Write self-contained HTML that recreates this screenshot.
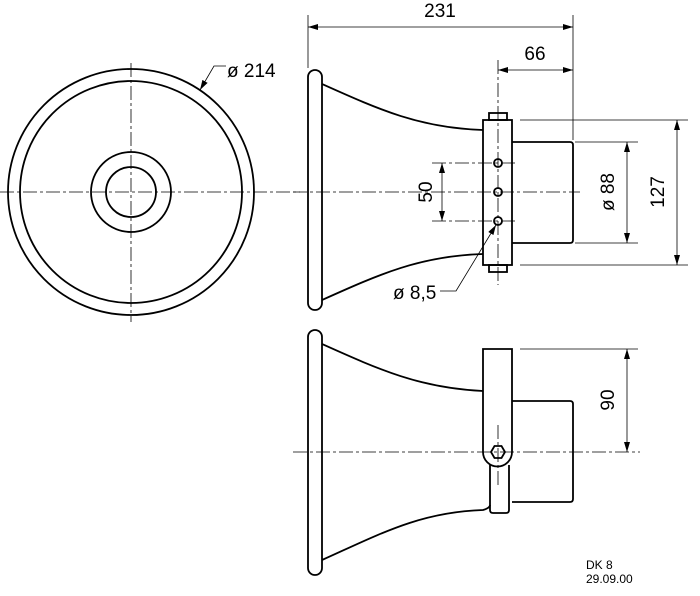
<!DOCTYPE html>
<html><head><meta charset="utf-8"><style>body{margin:0;background:#fff}svg{display:block}text{font-family:"Liberation Sans",sans-serif;fill:#000}</style></head>
<body>
<svg width="700" height="596" viewBox="0 0 700 596" xmlns="http://www.w3.org/2000/svg">
<defs><marker id="a" viewBox="0 0 10 6" refX="10" refY="3" markerWidth="10" markerHeight="6" orient="auto-start-reverse" markerUnits="userSpaceOnUse"><path d="M0,0 L10,3 L0,6 z" fill="#000"/></marker></defs>
<g fill="none" stroke="#000">
<g stroke-width="0.8" stroke-dasharray="14,3,3,3">
<line x1="0" y1="192" x2="300" y2="192"/>
<line x1="131" y1="63" x2="131" y2="322"/>
<line x1="293" y1="192" x2="580" y2="192"/>
<line x1="498" y1="60" x2="498" y2="285"/>
<line x1="293" y1="452" x2="640" y2="452"/>
<line x1="498" y1="425" x2="498" y2="485"/>
<line x1="432" y1="163" x2="518" y2="163"/>
<line x1="432" y1="221" x2="518" y2="221"/>
</g>
<g stroke-width="1.8">
<circle cx="131" cy="192" r="123"/>
<circle cx="131" cy="192" r="111"/>
<circle cx="131" cy="192" r="40"/>
<circle cx="131" cy="192" r="25"/>
</g>
<g stroke-width="1.8">
<rect x="308" y="70" width="14" height="240" rx="7"/>
<path d="M322,84 C380,110 420,128 483,130"/>
<path d="M322,300 C380,274 420,256 483,254"/>
<rect x="483" y="120" width="29" height="145"/>
<rect x="489" y="113" width="18" height="7"/>
<rect x="489" y="265" width="18" height="7"/>
<path d="M512,142 H570 Q573,142 573,145 V240 Q573,243 570,243 H512"/>
<circle cx="498" cy="163" r="4"/>
<circle cx="498" cy="192" r="4"/>
<circle cx="498" cy="221" r="4"/>
</g>
<g stroke-width="1.8">
<rect x="308" y="330" width="14" height="245" rx="7"/>
<path d="M322,344 C380,370 420,388 483,391"/>
<path d="M322,560 C380,534 420,512 483,510 Q490,508 490,505"/>
<path d="M483,349 H512 V452 A14.5,14.5 0 0 1 483,452 Z"/>
<path d="M490,465 V510 Q490,513 493,513 H506 Q509,513 509,510 V465"/>
<path d="M512,401 H570 Q573,401 573,404 V499 Q573,502 570,502 H512"/>
<polygon points="491,452 494.5,446 501.5,446 505,452 501.5,458 494.5,458"/>
</g>
<g stroke-width="0.8">
<line x1="308" y1="15" x2="308" y2="68"/>
<line x1="573" y1="15" x2="573" y2="140"/>
<line x1="308" y1="27" x2="573" y2="27" marker-start="url(#a)" marker-end="url(#a)"/>
<line x1="498" y1="70" x2="573" y2="70" marker-start="url(#a)" marker-end="url(#a)"/>
<line x1="442" y1="163" x2="442" y2="221" marker-start="url(#a)" marker-end="url(#a)"/>
<line x1="575" y1="142" x2="638" y2="142"/>
<line x1="575" y1="243" x2="638" y2="243"/>
<line x1="627" y1="142" x2="627" y2="243" marker-start="url(#a)" marker-end="url(#a)"/>
<line x1="520" y1="120" x2="688" y2="120"/>
<line x1="520" y1="265" x2="688" y2="265"/>
<line x1="677" y1="120" x2="677" y2="265" marker-start="url(#a)" marker-end="url(#a)"/>
<line x1="520" y1="349" x2="638" y2="349"/>
<line x1="627" y1="349" x2="627" y2="452" marker-start="url(#a)" marker-end="url(#a)"/>
<polyline points="440,291 456,291 496,225" marker-end="url(#a)"/>
<polyline points="226,66 214,66 200,90" marker-end="url(#a)"/>
</g>
</g>
<g font-size="19">
<text x="440" y="17" text-anchor="middle">231</text>
<text x="535" y="60" text-anchor="middle">66</text>
<text x="227" y="77">ø 214</text>
<text x="393" y="299">ø 8,5</text>
<text transform="translate(432,192) rotate(-90)" text-anchor="middle">50</text>
<text transform="translate(614,192) rotate(-90)" text-anchor="middle">ø 88</text>
<text transform="translate(664,192) rotate(-90)" text-anchor="middle">127</text>
<text transform="translate(614,400) rotate(-90)" text-anchor="middle">90</text>
</g>
<text x="586" y="569" font-size="12">DK 8</text>
<text x="586" y="583" font-size="12">29.09.00</text>
</svg>
</body></html>
